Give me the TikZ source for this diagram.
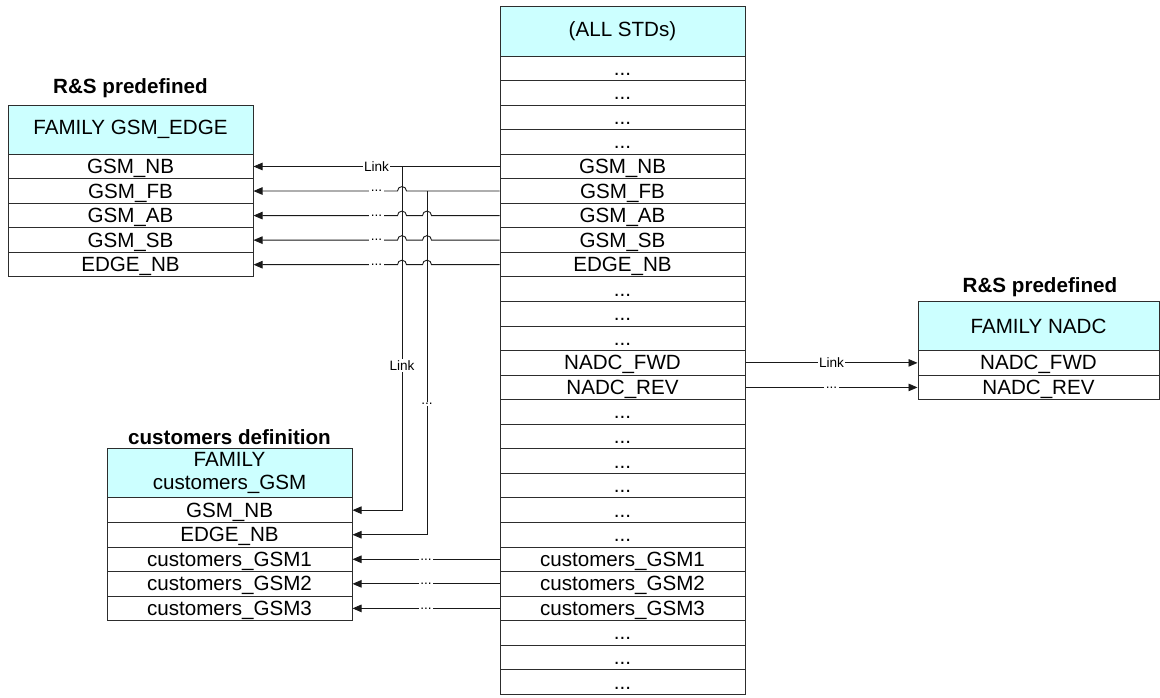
\documentclass[tikz,border=0pt]{standalone}
\usepackage{fontspec}
\setmainfont{Liberation Sans}
\usetikzlibrary{positioning, calc}
\usetikzlibrary{arrows.meta}

\definecolor{hdcyan}{RGB}{204,255,255}
\definecolor{edgegray}{RGB}{45,45,45}
\newcommand{\etcrow}{...}

\begin{document}
\begin{tikzpicture}[x=1pt, y=1pt,
		box/.style={draw=edgegray, line width=1pt, inner sep=0pt, minimum width=245pt,
			font=\fontsize{20.6}{23}\selectfont},
		cell/.style={box, minimum height=24.55pt, text height=14pt, text depth=0pt},
		headcell/.style={box, fill=hdcyan, minimum height=49.1pt, align=center},
		title/.style={font=\fontsize{20.6}{23}\selectfont\bfseries},
		wire/.style={draw=black!90, line width=.9pt},
		tip/.style={wire, -{Triangle[length=9pt, width=7.5pt]}},
		lbl/.style={fill=white, inner sep=1.5pt, font=\fontsize{13.6}{15}\selectfont}]
	\useasboundingbox (0,0) rectangle (1160,-697);
	% all standards
	\node[headcell] (stdhead) at (622.5,-31.5) {(ALL STDs)};
	\foreach \t [count=\i] in {\etcrow,\etcrow,\etcrow,\etcrow,GSM\_NB,GSM\_FB,GSM\_AB,GSM\_SB,EDGE\_NB,\etcrow,\etcrow,\etcrow,
			NADC\_FWD,NADC\_REV,\etcrow,\etcrow,\etcrow,\etcrow,\etcrow,\etcrow,
			customers\_GSM1,customers\_GSM2,customers\_GSM3,\etcrow,\etcrow,\etcrow}
		\node[cell] (std\i) at (622.5,{-56-24.55*(\i-0.5)}) {\t};
	% R&S GSM family
	\node[title] (gsmtitle) at (130.5,-88) {R\&S predefined};
	\node[headcell] (gsmhead) at (130.5,-129.65) {FAMILY GSM\_EDGE};
	\foreach \t [count=\k] in {GSM\_NB,GSM\_FB,GSM\_AB,GSM\_SB,EDGE\_NB}
		\node[cell] (gsm\k) at (130.5,{-56-24.55*(\k+3.5)}) {\t};
	% R&S NADC family
	\node[title] (nadctitle) at (1040,-287) {R\&S predefined};
	\node[headcell, minimum width=241pt] (nadchead) at (1038.5,-326) {FAMILY NADC};
	\foreach \t [count=\k] in {NADC\_FWD,NADC\_REV}
		\node[cell, minimum width=241pt] (nadc\k) at (1038.5,{-56-24.55*(\k+11.5)}) {\t};
	% customers family
	\node[title] (custitle) at (229.5,-437) {customers definition};
	\node[headcell] (cushead) at (229.5,-473.35) {FAMILY\\customers\_GSM};
	\foreach \t [count=\k] in {GSM\_NB,EDGE\_NB,customers\_GSM1,customers\_GSM2,customers\_GSM3}
		\node[cell] (cus\k) at (229.5,{-56-24.55*(\k+17.5)}) {\t};

	% links to GSM family
	\draw[tip] (std5.west) -- (gsm1.east) node[lbl, midway] (lkgsm1) {Link};
	\draw[tip] (std6.west) -- (406.5,0 |- std6.west) arc[start angle=0, end angle=180, radius=4.5pt] -- (gsm2.east);
	\node[lbl] (lkgsm2) at ($(std6.west)!.5!(gsm2.east)$) {\etcrow};
	\foreach \s/\k in {7/3,8/4,9/5}{
		\draw[tip] (std\s.west) -- (431.5,0 |- std\s.west) arc[start angle=0, end angle=180, radius=4.5pt]
			-- (406.5,0 |- std\s.west) arc[start angle=0, end angle=180, radius=4.5pt] -- (gsm\k.east);
		\node[lbl] (lkgsm\k) at ($(std\s.west)!.5!(gsm\k.east)$) {\etcrow};
	}
	% branches down to customers family
	\coordinate (tapA) at (402,0 |- std5.west);
	\coordinate (tapB) at (427,0 |- std6.west);
	\draw[tip] (tapA) |- (cus1.east) node[lbl, pos=.29] (lkcusA) {Link};
	\draw[tip] (tapB) |- (cus2.east) node[lbl, pos=.31] (lkcusB) {\etcrow};
	\foreach \s/\k in {21/3,22/4,23/5}
		\draw[tip] (std\s.west) -- (cus\k.east) node[lbl, midway] (lkcus\k) {\etcrow};
	% links to NADC family
	\draw[tip] (std13.east) -- (nadc1.west) node[lbl, midway] (lknadc1) {Link};
	\draw[tip] (std14.east) -- (nadc2.west) node[lbl, midway] (lknadc2) {\etcrow};
\end{tikzpicture}
\end{document}
